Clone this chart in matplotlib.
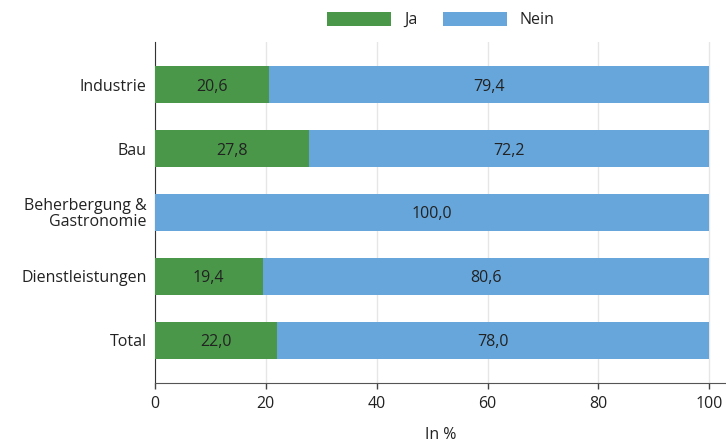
import matplotlib

matplotlib.use("Agg")
import matplotlib.pyplot as plt
import numpy as np

CATEGORIES = ["Industrie", "Bau", "Beherbergung &\nGastronomie",
              "Dienstleistungen", "Total"]
JA = [20.6, 27.8, 0.0, 19.4, 22.0]
NEIN = [79.4, 72.2, 100.0, 80.6, 78.0]
XTICKS = [0, 20, 40, 60, 80, 100]

GREEN = "#4a974a"
BLUE = "#67a6db"
TEXT = "#222222"

plt.rcParams.update({
    "font.family": ["Open Sans", "DejaVu Sans"],
    "font.size": 11.5,
    "text.color": TEXT,
    "axes.labelcolor": TEXT,
    "xtick.color": "#444444",
    "xtick.labelcolor": TEXT,
    "ytick.labelcolor": TEXT,
})

fig = plt.figure(figsize=(7.26, 4.46), dpi=100)
ax = fig.add_axes([155 / 726, 1 - 383 / 446, 1 - 155 / 726, (383 - 42) / 446])

y = np.arange(len(CATEGORIES))
h = 0.58
ja_bars = ax.barh(y, JA, height=h, color=GREEN, label="Ja", zorder=3)
nein_bars = ax.barh(y, NEIN, left=JA, height=h, color=BLUE, label="Nein",
                    zorder=3)

for i in range(len(CATEGORIES)):
    if JA[i] > 0:
        ax.text(JA[i] / 2, y[i] + 0.03, f"{JA[i]:.1f}".replace(".", ","),
                ha="center", va="center", color=TEXT, zorder=4)
    ax.text(JA[i] + NEIN[i] / 2, y[i] + 0.03,
            f"{NEIN[i]:.1f}".replace(".", ","),
            ha="center", va="center", color=TEXT, zorder=4)

ax.set_xlim(0, 103)
ax.set_ylim(len(CATEGORIES) - 1 + 0.67, -0.67)
ax.set_xticks(XTICKS)
ax.set_yticks(y)
ax.set_yticklabels(CATEGORIES, linespacing=1.0)
ax.tick_params(axis="y", length=0, pad=6)
ax.tick_params(axis="x", length=4, width=1, pad=5)
ax.grid(axis="x", color="#e6e6e6", lw=1, zorder=0)
for s in ["top", "right"]:
    ax.spines[s].set_visible(False)
ax.spines["left"].set_color("#333333")
ax.spines["bottom"].set_color("#555555")
ax.set_xlabel("In %", labelpad=11)

fig.legend(handles=[ja_bars, nein_bars], loc="center",
           bbox_to_anchor=(441 / 726, 1 - 20 / 446), ncol=2, frameon=False,
           handlelength=4.0, handleheight=1.0, columnspacing=1.6,
           handletextpad=0.8)

fig.savefig("out.png", dpi=100)
